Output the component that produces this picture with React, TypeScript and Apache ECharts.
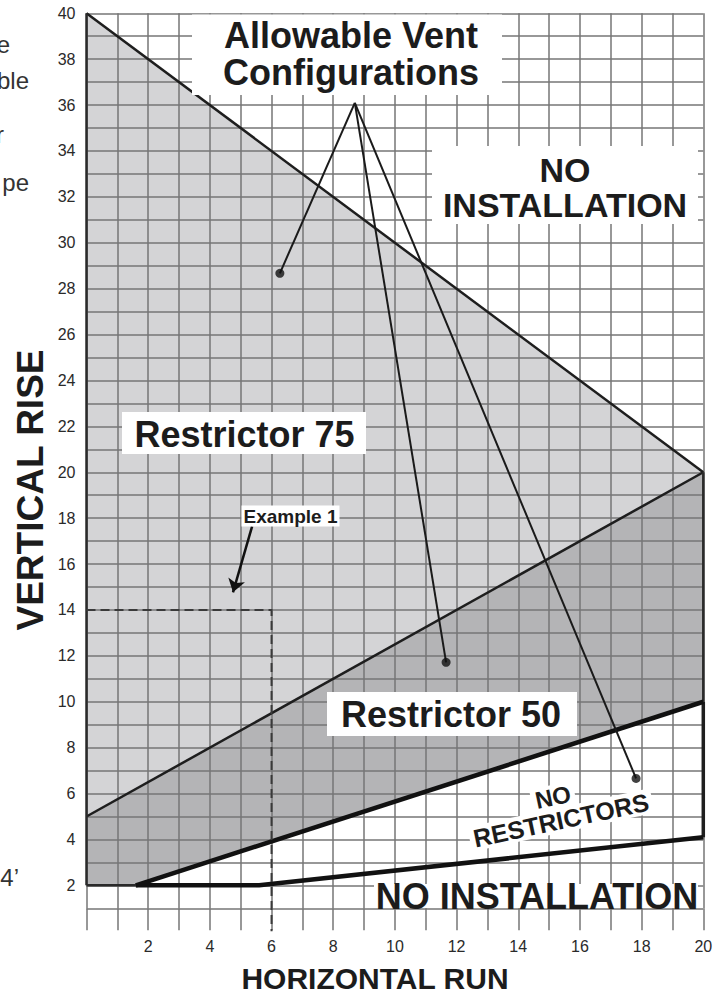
import React, { useEffect, useRef } from "react";
import * as echarts from "echarts";

// ---- data (chart units: horizontal run / vertical rise) ----
const xTicks = [2, 4, 6, 8, 10, 12, 14, 16, 18, 20];
const yTickLabels = [2, 4, 6, 8, 10, 12, 14, 16, 18, 20, 22, 24, 26, 28, 30, 32, 34, 36, 38, 40];

const restrictor75Region = [[0, 5], [0, 40], [20, 20]];
const restrictor50Region = [[0, 2], [0, 5], [20, 20], [20, 10], [1.6, 2]];

const upperLimit = [[0, 40], [20, 20]];
const r75r50Boundary = [[0, 5], [20, 20]];
const leftEdge = [[0, 2], [0, 40]];
const rightEdgeUpper = [[20, 10], [20, 20]];
const rightEdgeLower = [[20, 4.1], [20, 10]];
const bottomEdge = [[0, 2], [1.6, 2]];
const restrictor50Lower = [[1.6, 2], [20, 10]];
const noRestrictorLower = [[1.6, 2], [5.6, 2], [20, 4.1]];

const example1 = [[0, 14], [6, 14], [6, 0]];
const example1Arrow = [[5.37, 17.64], [4.75, 14.77]];

const leaderApex = [8.7, 36.1];
const leaderTargets = [[6.27, 28.67], [11.66, 11.72], [17.82, 6.66]];

const FONT = '"Liberation Sans", Arial, Helvetica, sans-serif';
const f = (size: number, weight = "bold") => `${weight} ${size}px ${FONT}`;

export default function App() {
  const ref = useRef<HTMLDivElement>(null);
  useEffect(() => {
    const chart = echarts.init(ref.current!, null, { renderer: "svg" });
    const gridColor = "#767676";
    const polySeries = (pts: number[][], fill: string) => ({
      type: "custom",
      z: 1,
      silent: true,
      clip: false,
      data: pts,
      renderItem: (params: any, api: any) => {
        if (params.dataIndex !== 0) return null;
        return {
          type: "polygon",
          shape: { points: pts.map((p) => api.coord(p)) },
          style: { fill },
        };
      },
    });
    const lineSeries = (pts: number[][], width: number, color = "#1e1e1e", type: any = "solid") => ({
      type: "line",
      z: 5,
      silent: true,
      clip: false,
      symbol: "none",
      data: pts,
      lineStyle: { width, color, type, cap: "butt", join: "miter" },
    });
    const textEl = (
      text: string,
      x: number,
      y: number,
      size: number,
      opts: any = {}
    ) => ({
      type: "text",
      x,
      y,
      z: 101,
      rotation: opts.rotation || 0,
      style: {
        text,
        font: f(size, opts.weight || "bold"),
        fill: opts.fill || "#1c1c1c",
        align: opts.align || "center",
        verticalAlign: opts.verticalAlign || "middle",
        backgroundColor: opts.bg,
        padding: opts.padding,
      },
    });
    const box = (x: number, y: number, w: number, h: number) => ({
      type: "rect",
      z: 100,
      shape: { x, y, width: w, height: h },
      style: { fill: "#ffffff" },
    });

    chart.setOption({
      animation: false,
      backgroundColor: "#ffffff",
      grid: { left: 86.5, top: 13.3, width: 616.8, height: 895.0 },
      xAxis: {
        type: "value",
        min: 0,
        max: 20,
        interval: 1,
        z: 3,
        axisLine: { show: false },
        axisTick: { show: true, length: 22, lineStyle: { color: gridColor, width: 1.5 } },
        axisLabel: {
          margin: 30,
          fontSize: 16,
          fontFamily: FONT,
          color: "#2a2a2a",
          formatter: (v: number) => (xTicks.includes(v) ? String(v) : ""),
        },
        splitLine: { show: true, lineStyle: { color: gridColor, width: 1.5 } },
      },
      yAxis: {
        type: "value",
        min: 1,
        max: 40,
        interval: 1,
        z: 3,
        axisLine: { show: false },
        axisTick: { show: false },
        axisLabel: {
          margin: 11,
          fontSize: 16,
          fontFamily: FONT,
          color: "#2a2a2a",
          formatter: (v: number) => (yTickLabels.includes(v) ? String(v) : ""),
        },
        splitLine: { show: true, lineStyle: { color: gridColor, width: 1.5 } },
      },
      series: [
        polySeries(restrictor75Region, "#d4d4d6"),
        polySeries(restrictor50Region, "#b4b4b6"),
        lineSeries(upperLimit, 2.5),
        lineSeries(r75r50Boundary, 2.5),
        lineSeries(leftEdge, 2.5, "#2a2a2a"),
        lineSeries(rightEdgeUpper, 2.5, "#2a2a2a"),
        lineSeries(rightEdgeLower, 3.5, "#1e1e1e"),
        lineSeries(bottomEdge, 2.5, "#2a2a2a"),
        lineSeries(restrictor50Lower, 4.5, "#111"),
        lineSeries(noRestrictorLower, 4.5, "#111"),
        { ...lineSeries(example1, 2, "#3a3a3a", [9, 5]) },
        ...leaderTargets.map((t) => lineSeries([leaderApex, t], 2, "#1a1a1a")),
        {
          type: "scatter",
          z: 6,
          silent: true,
          symbol: "circle",
          symbolSize: 9,
          itemStyle: { color: "#111" },
          data: leaderTargets,
        },
        {
          type: "lines",
          coordinateSystem: "cartesian2d",
          z: 6,
          silent: true,
          symbol: ["none", "arrow"],
          symbolSize: [0, 13],
          lineStyle: { width: 2.5, color: "#111", opacity: 1 },
          data: [{ coords: example1Arrow }],
        },
      ],
      graphic: [
        // cut-off fragments of neighbouring page text (they are cut off in the reference too)
        textEl("e", 10, 56, 24, { weight: "normal", align: "right", verticalAlign: "bottom", fill: "#333" }),
        textEl("ble", 29, 92, 24, { weight: "normal", align: "right", verticalAlign: "bottom", fill: "#333" }),
        textEl("r", 4, 146, 24, { weight: "normal", align: "right", verticalAlign: "bottom", fill: "#333" }),
        textEl("pe", 29, 194, 24, { weight: "normal", align: "right", verticalAlign: "bottom", fill: "#333" }),
        textEl("4’", 19, 889, 24, { weight: "normal", align: "right", verticalAlign: "bottom", fill: "#333" }),

        box(192, 14.5, 310, 80.5),
        textEl("Allowable Vent", 351, 35, 36),
        textEl("Configurations", 351, 72, 36),

        box(432, 146, 266, 78),
        textEl("NO", 565, 170, 34),
        textEl("INSTALLATION", 565, 205, 34),

        box(122, 412, 244, 42),
        textEl("Restrictor 75", 244.5, 434, 36),

        textEl("Example 1", 290.5, 516, 19, { bg: "#fff", padding: [1, 2] }),

        box(327, 692, 250, 44),
        textEl("Restrictor 50", 451, 714, 36),

        textEl("NO", 553, 797, 24, { rotation: (12 * Math.PI) / 180, bg: "#fff", padding: [0, 4] }),
        textEl("RESTRICTORS", 561, 820, 25, { rotation: (12 * Math.PI) / 180, bg: "#fff", padding: [0, 4] }),

        box(374, 884, 324, 24),
        textEl("NO INSTALLATION", 537, 896, 36),

        textEl("VERTICAL RISE", 30, 490, 37, { rotation: Math.PI / 2 }),
        textEl("HORIZONTAL RUN", 375, 978, 30),
      ],
    });
    return () => chart.dispose();
  }, []);
  return (
    <div
      ref={ref}
      style={{ position: "fixed", left: 0, top: 0, width: 723, height: 992, background: "#fff" }}
    />
  );
}
